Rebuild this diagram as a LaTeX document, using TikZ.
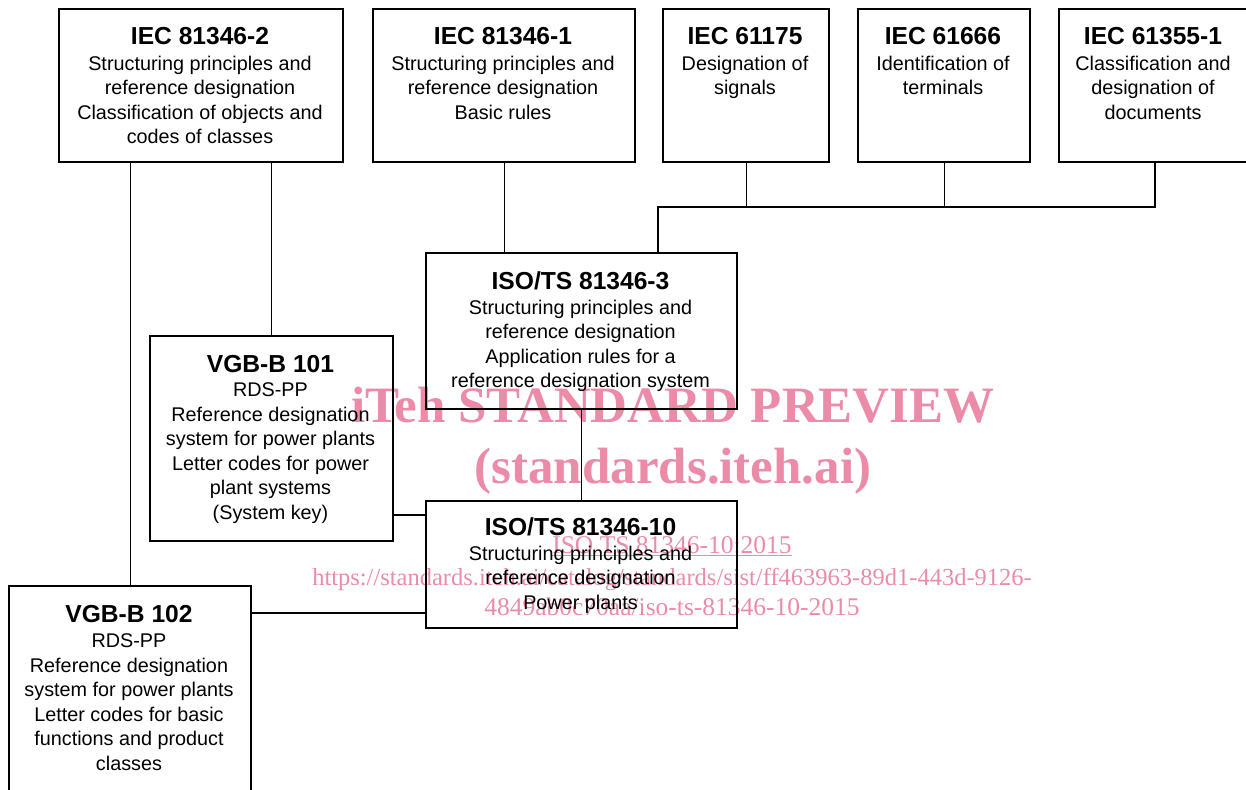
\documentclass[tikz,border=0pt]{standalone}
\usepackage{fontspec}
\setmainfont{Liberation Sans}
\newfontfamily\wmfont{Liberation Serif}
\definecolor{wmpink}{RGB}{236,139,168}
\begin{document}
\begin{tikzpicture}[x=1pt,y=-1pt,
  box/.style={draw, line width=2.4pt, anchor=north west, inner sep=0pt},
  ttl/.style={font=\fontsize{24.6}{29}\selectfont\bfseries, anchor=base, inner sep=0pt},
  txt/.style={font=\fontsize{19.8}{24.5}\selectfont, align=center, anchor=north, inner sep=0pt},
  con/.style={line width=1.3pt},
  wmbig/.style={text=wmpink, anchor=base, inner sep=0pt, font=\fontsize{51}{60}\selectfont\wmfont\bfseries},
  wmsmall/.style={text=wmpink, anchor=base, inner sep=0pt, font=\fontsize{25.5}{31}\selectfont\wmfont}]
\useasboundingbox (0,0) rectangle (1246,789);
% watermark (beneath the diagram)
\node[wmbig] (wm1) at (673,422) {iTeh STANDARD PREVIEW};
\node[wmbig] (wm2) at (673,483) {(standards.iteh.ai)};
\node[wmsmall] (wm3) at (672,553) {\underline{ISO TS 81346-10:2015}};
\node[wmsmall, font=\fontsize{24.5}{31}\selectfont\wmfont] (wm4) at (672,585) {https://standards.iteh.ai/catalog/standards/sist/ff463963-89d1-443d-9126-};
\node[wmsmall] (wm5) at (672,615) {4849ab0c70aa/iso-ts-81346-10-2015};
% boxes
\node[box, minimum width=284pt, minimum height=153pt] (b2) at (58,8) {};
\node[box, minimum width=262pt, minimum height=153pt] (b1) at (372,8) {};
\node[box, minimum width=166pt, minimum height=153pt] (s61175) at (662,8) {};
\node[box, minimum width=172pt, minimum height=153pt] (s61666) at (857,8) {};
\node[box, minimum width=192pt, minimum height=153pt] (s61355) at (1058,8) {};
\node[box, minimum width=311pt, minimum height=156pt] (iso3) at (425,252) {};
\node[box, minimum width=243pt, minimum height=205pt] (vgb101) at (149,335) {};
\node[box, minimum width=311pt, minimum height=127pt] (iso10) at (425,500) {};
\node[box, minimum width=242pt, minimum height=215pt] (vgb102) at (8,585) {};
% texts
\node[ttl] (b2t) at (200,45) {IEC 81346-2};
\node[txt] (b2d) at (200,55.5) {Structuring principles and\\reference designation\\Classification of objects and\\codes of classes};
\node[ttl] (b1t) at (503,45) {IEC 81346-1};
\node[txt] (b1d) at (503,55.5) {Structuring principles and\\reference designation\\Basic rules};
\node[ttl] (s61175t) at (745,45) {IEC 61175};
\node[txt] (s61175d) at (745,55.5) {Designation of\\signals};
\node[ttl] (s61666t) at (943,45) {IEC 61666};
\node[txt] (s61666d) at (943,55.5) {Identification of\\terminals};
\node[ttl] (s61355t) at (1153,45) {IEC 61355-1};
\node[txt] (s61355d) at (1153,55.5) {Classification and\\designation of\\documents};
\node[ttl] (iso3t) at (580.5,289) {ISO/TS 81346-3};
\node[txt] (iso3d) at (580.5,299.5) {Structuring principles and\\reference designation\\Application rules for a\\reference designation system};
\node[ttl] (vgb101t) at (270.5,372) {VGB-B 101};
\node[txt] (vgb101d) at (270.5,382.5) {RDS-PP\\Reference designation\\system for power plants\\Letter codes for power\\plant systems\\(System key)};
\node[ttl] (iso10t) at (580.5,535) {ISO/TS 81346-10};
\node[txt] (iso10d) at (580.5,545.5) {Structuring principles and\\reference designation\\Power plants};
\node[ttl] (vgb102t) at (129,622) {VGB-B 102};
\node[txt] (vgb102d) at (129,633.5) {RDS-PP\\Reference designation\\system for power plants\\Letter codes for basic\\functions and product\\classes};
% connectors
\coordinate (j) at (658,207);
\coordinate (h1) at (400,515);
\coordinate (h2) at (300,613);
\draw[con] (b2.south -| vgb102.north) -- (vgb102.north);
\draw[con] (b2.south -| vgb101.north) -- (vgb101.north);
\draw[con] (b1.south) -- (b1.south |- iso3.north);
\draw[con] (s61355.south -| 1155,0) -- (1155,207) -- (j) -- (j |- iso3.north);
\draw[con] (s61175.south) -- (s61175.south |- j);
\draw[con] (s61666.south) -- (s61666.south |- j);
\draw[con] (iso3.south) -- (iso10.north);
\draw[con] (vgb101.east |- h1) -- (iso10.west |- h1);
\draw[con] (vgb102.east |- h2) -- (iso10.west |- h2);
\end{tikzpicture}
\end{document}
